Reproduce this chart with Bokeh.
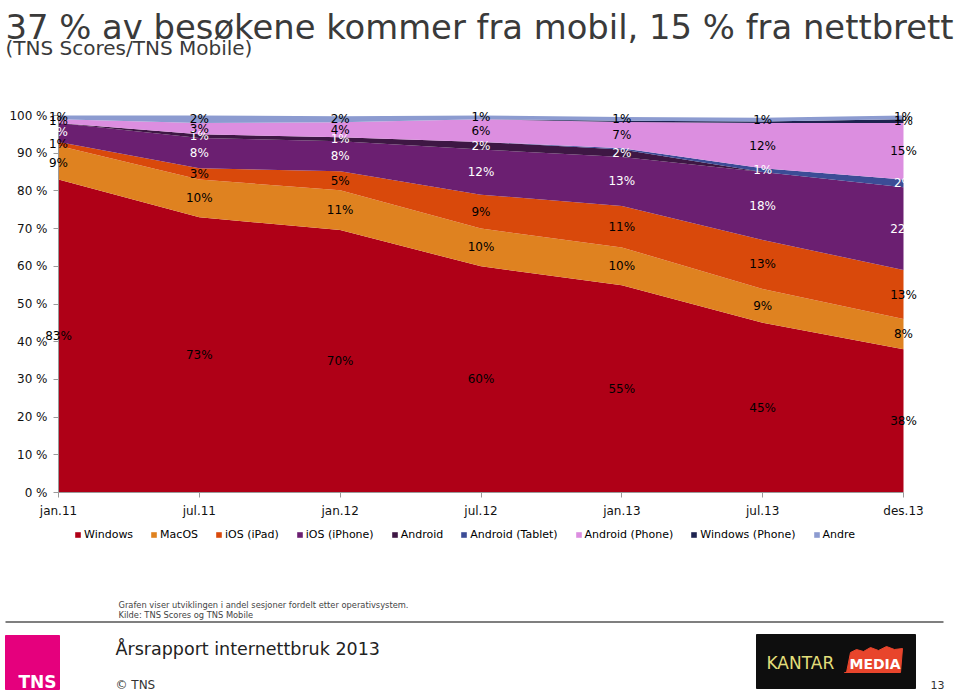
from bokeh.plotting import figure
from bokeh.models import (Range1d, FixedTicker, PrintfTickFormatter, ColumnDataSource,
                          LabelSet, Legend, LegendItem)
from bokeh.embed import file_html
from bokeh.resources import INLINE
from bokeh.core.properties import value, field

# ---------------- data ----------------
periods = ["jan.11", "jul.11", "jan.12", "jul.12", "jan.13", "jul.13", "des.13"]
series_names = ["Windows", "MacOS", "iOS (iPad)", "iOS (iPhone)", "Android",
                "Android (Tablet)", "Android (Phone)", "Windows (Phone)", "Andre"]
windows = [83, 73, 69.6, 60, 55, 45, 38]
macos = [9, 10, 10.6, 10, 10, 9, 8]
ios_ipad = [1, 3, 5, 9, 11, 13, 13]
ios_iphone = [5, 8, 8, 12, 13, 18, 22]
android = [0, 1, 1, 2, 2, 0, 0]
android_tablet = [0, 0, 0, 0, 0.3, 1, 2]
android_phone = [1, 3, 4, 6, 7, 12, 15]
windows_phone = [0, 0, 0, 0, 0.3, 0.4, 1]
andre = [1, 2, 1.6, 1, 1, 1, 1]
y_ticks = list(range(0, 101, 10))

series_values = [windows, macos, ios_ipad, ios_iphone, android,
                 android_tablet, android_phone, windows_phone, andre]
colors = ["#AF0017", "#DF8220", "#D9490B", "#6B1F71", "#3E1744",
          "#3C4C96", "#DC8EE0", "#1E2350", "#8C9BD0"]
label_colors = ["#000000", "#000000", "#000000", "#FFFFFF", "#FFFFFF",
                "#FFFFFF", "#000000", "#000000", "#000000"]

title_text = "37 % av besøkene kommer fra mobil, 15 % fra nettbrett"
subtitle_text = "(TNS Scores/TNS Mobile)"
note_lines = ["Grafen viser utviklingen i andel sesjoner fordelt etter operativsystem.",
              "Kilde: TNS Scores og TNS Mobile"]
report_text = "Årsrapport internettbruk 2013"

FNAME = "DejaVu Sans"
FONT = value(FNAME)

# ---------------- canvas / plot-area geometry (pixels) ----------------
W, H = 958, 691
PL, PR = 58, 903        # plot area left / right (canvas px)
PT, PB = 115, 492       # plot area top / bottom (canvas px)
n = len(periods)
ux = (n - 1) / (PR - PL)
uy = 100.0 / (PB - PT)
x_rng = Range1d(-PL * ux, (n - 1) + (W - PR) * ux)
y_rng = Range1d(-(H - PB) * uy, 100 + PT * uy)

p = figure(width=W, height=H, x_range=x_rng, y_range=y_rng,
           output_backend="svg", toolbar_location=None, min_border=0)
p.extra_x_ranges = {"px": Range1d(0, W)}
p.extra_y_ranges = {"py": Range1d(H, 0)}
p.grid.visible = False
p.outline_line_color = None

# ---------------- stacked areas ----------------
xs = list(range(n))
keys = ["s%d" % i for i in range(len(series_names))]
data = {"x": xs}
for k, vals in zip(keys, series_values):
    data[k] = vals
src = ColumnDataSource(data)
rs = p.varea_stack(keys, x="x", color=colors, source=src)

# data labels
lx, ly, lt, lc = [], [], [], []
for j in xs:
    base = 0.0
    for i, vals in enumerate(series_values):
        v = vals[j]
        if round(v) >= 1:
            lx.append(j)
            ly.append(base + v / 2.0)
            lt.append("%d%%" % round(v))
            lc.append(label_colors[i])
        base += v
lsrc = ColumnDataSource(dict(x=lx, y=ly, text=lt, tcol=lc))
labels = LabelSet(x="x", y="y", text="text", source=lsrc, text_color=field("tcol"),
                  text_font=FONT, text_font_size="12px", text_align="center",
                  text_baseline="middle")
p.add_layout(labels)

# ---------------- axes ----------------
p.xaxis.ticker = FixedTicker(ticks=xs)
p.xaxis.major_label_overrides = {i: periods[i] for i in xs}
p.xaxis.fixed_location = 0
p.xaxis.bounds = (0, n - 1)
p.yaxis.ticker = FixedTicker(ticks=y_ticks)
p.yaxis.formatter = PrintfTickFormatter(format="%d %%")
p.yaxis.fixed_location = 0
p.yaxis.bounds = (0, 100)
for ax in (p.xaxis[0], p.yaxis[0]):
    ax.axis_line_color = "#9a9a9a"
    ax.major_tick_line_color = "#9a9a9a"
    ax.minor_tick_line_color = None
    ax.major_tick_out = 5
    ax.major_tick_in = 0
    ax.major_label_text_font = FNAME
    ax.major_label_text_font_size = "12px"
    ax.major_label_text_color = "#111111"
p.yaxis.major_label_standoff = 6
p.xaxis.major_label_standoff = 6

# ---------------- legend ----------------
legend = Legend(items=[LegendItem(label=nm, renderers=[r]) for nm, r in zip(series_names, rs)],
                orientation="horizontal", location=(74, H - 541),
                glyph_width=7, glyph_height=7, label_standoff=3, spacing=17,
                label_text_font=FNAME, label_text_font_size="11px", label_text_color="#000000",
                label_height=12, padding=4, margin=0,
                border_line_color=None, background_fill_alpha=0)
p.add_layout(legend)

# ---------------- header & footer decorations (canvas px) ----------------
deco = dict(x_range_name="px", y_range_name="py")
p.text(x=[5], y=[27], text=[title_text], text_font=FONT, text_font_size="33.8px",
       text_color="#3a3a3a", text_baseline="alphabetic", text_align="left", **deco)
p.text(x=[5], y=[47], text=[subtitle_text], text_font=FONT, text_font_size="20px",
       text_color="#3a3a3a", text_baseline="alphabetic", text_align="left", **deco)

p.text(x=[118, 118], y=[604, 614], text=note_lines, text_font=FONT, text_font_size="8.3px",
       text_color="#444444", text_baseline="alphabetic", text_align="left", **deco)
p.line(x=[5, 943], y=[621.5, 621.5], line_color="#555555", line_width=1.5, **deco)
p.text(x=[115], y=[648], text=[report_text], text_font=FONT, text_font_size="17.5px",
       text_color="#222222", text_baseline="alphabetic", text_align="left", **deco)
p.text(x=[115], y=[684], text=["© TNS"], text_font=FONT, text_font_size="12px",
       text_color="#333333", text_baseline="alphabetic", text_align="left", **deco)
p.text(x=[930], y=[684], text=["13"], text_font=FONT, text_font_size="11px",
       text_color="#333333", text_baseline="alphabetic", text_align="left", **deco)
# TNS logo
p.quad(left=[5], right=[59], top=[635], bottom=[689], color="#E5007D", **deco)
p.text(x=[18], y=[681], text=["TNS"], text_font=FONT, text_font_size="17px",
       text_font_style="bold", text_color="#FFFFFF", text_baseline="alphabetic", **deco)
# Kantar Media logo
p.quad(left=[756], right=[915], top=[634], bottom=[688], color="#0E0E0E", **deco)
p.patch(x=[846, 850, 856, 863, 870, 878, 886, 894, 902, 900, 844],
        y=[672, 652, 649, 651, 647, 650, 646, 649, 648, 672, 672], color="#E8452C", **deco)
p.text(x=[766], y=[662], text=["KANTAR"], text_font=FONT, text_font_size="17px",
       text_color="#E2DE7A", text_baseline="middle", **deco)
p.text(x=[849], y=[663], text=["MEDIA"], text_font=FONT, text_font_size="14px",
       text_font_style="bold", text_color="#FFFFFF", text_baseline="middle", **deco)

open("out.html", "w").write(file_html(p, INLINE))
